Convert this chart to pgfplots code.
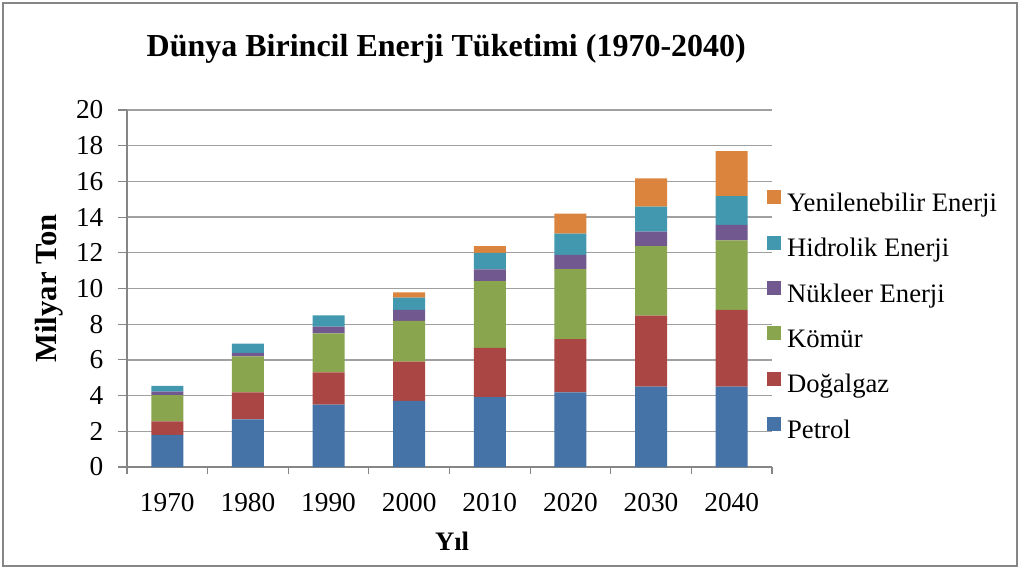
\documentclass[border=0pt]{standalone}
\usepackage{fontspec}
\setmainfont{Liberation Serif}
\usepackage{pgfplots}
\pgfplotsset{compat=1.18}
\definecolor{cPet}{HTML}{4572A7}
\definecolor{cGaz}{HTML}{AA4643}
\definecolor{cKom}{HTML}{89A54E}
\definecolor{cNuk}{HTML}{71588F}
\definecolor{cHid}{HTML}{4198AF}
\definecolor{cYen}{HTML}{DB843D}
\definecolor{axgray}{HTML}{868686}
\definecolor{grgray}{HTML}{A0A0A0}
\begin{document}
\begin{tikzpicture}
\useasboundingbox (0,0) rectangle (765.75pt,426.75pt);
\draw[axgray, line width=1.1pt] (3*0.75pt,3*0.75pt) rectangle (1017*0.75pt,566*0.75pt);
\begin{axis}[
  at={(95.25pt,76.5pt)}, anchor=south west,
  scale only axis, width=483.75pt, height=267.75pt,
  ybar stacked, bar width=24pt,
  xmin=-0.5, xmax=7.5, ymin=0, ymax=20,
  ytick={0,2,...,20},
  xtick={0,...,7},
  xticklabels={1970,1980,1990,2000,2010,2020,2030,2040},
  minor xtick={-0.5,0.5,...,7.5},
  major x tick style={draw=none},
  tick align=outside,
  major tick length=6.5pt, minor tick length=5pt,
  tick style={axgray, line width=0.8pt},
  axis x line*=bottom, axis y line*=left,
  axis line style={axgray, line width=1pt},
  ymajorgrids, grid style={grgray, line width=1pt},
  /pgf/number format/assume math mode=true,
  tick label style={font=\fontsize{20.5}{24}\selectfont},
  xticklabel style={anchor=center, yshift=-20pt},
  yticklabel style={anchor=east, inner sep=0pt, xshift=-11pt},
  title={Dünya Birincil Enerji Tüketimi (1970-2040)},
  title style={font=\fontsize{24}{28}\selectfont\bfseries, at={(0.495,1.148)}, anchor=center},
  ylabel={Milyar Ton},
  ylabel style={font=\fontsize{23}{27}\selectfont\bfseries, at={(-0.12,0.5)}, anchor=center},
  xlabel={Yıl},
  xlabel style={font=\fontsize{20}{24}\selectfont\bfseries, at={(0.504,-0.208)}, anchor=center},
  reverse legend,
  legend cell align=left,
  legend image code/.code={\fill[#1,draw=none] (0pt,0.5pt) rectangle (10.5pt,11pt);},
  legend style={at={(0.992,0.776)}, anchor=north west, draw=none, fill=none,
    inner sep=0pt, column sep=4.5pt, row sep=13pt,
    font=\fontsize{20}{24}\selectfont,
    nodes={inner sep=0pt, text height=15pt, text depth=5pt}},
]
\addplot+[fill=cPet, draw=none] coordinates {(0,1.8) (1,2.67) (2,3.5) (3,3.7) (4,3.92) (5,4.18) (6,4.5) (7,4.5)};
\addplot+[fill=cGaz, draw=none] coordinates {(0,0.75) (1,1.51) (2,1.8) (3,2.2) (4,2.76) (5,2.99) (6,3.98) (7,4.3)};
\addplot+[fill=cKom, draw=none] coordinates {(0,1.48) (1,2.02) (2,2.19) (3,2.28) (4,3.74) (5,3.92) (6,3.9) (7,3.9)};
\addplot+[fill=cNuk, draw=none] coordinates {(0,0.19) (1,0.2) (2,0.37) (3,0.62) (4,0.65) (5,0.79) (6,0.8) (7,0.87)};
\addplot+[fill=cHid, draw=none] coordinates {(0,0.33) (1,0.51) (2,0.64) (3,0.69) (4,0.93) (5,1.19) (6,1.4) (7,1.61)};
\addplot+[fill=cYen, draw=none] coordinates {(0,0) (1,0) (2,0) (3,0.3) (4,0.38) (5,1.12) (6,1.59) (7,2.51)};
\legend{Petrol,Doğalgaz,Kömür,Nükleer Enerji,Hidrolik Enerji,Yenilenebilir Enerji}
\end{axis}
\end{tikzpicture}
\end{document}
